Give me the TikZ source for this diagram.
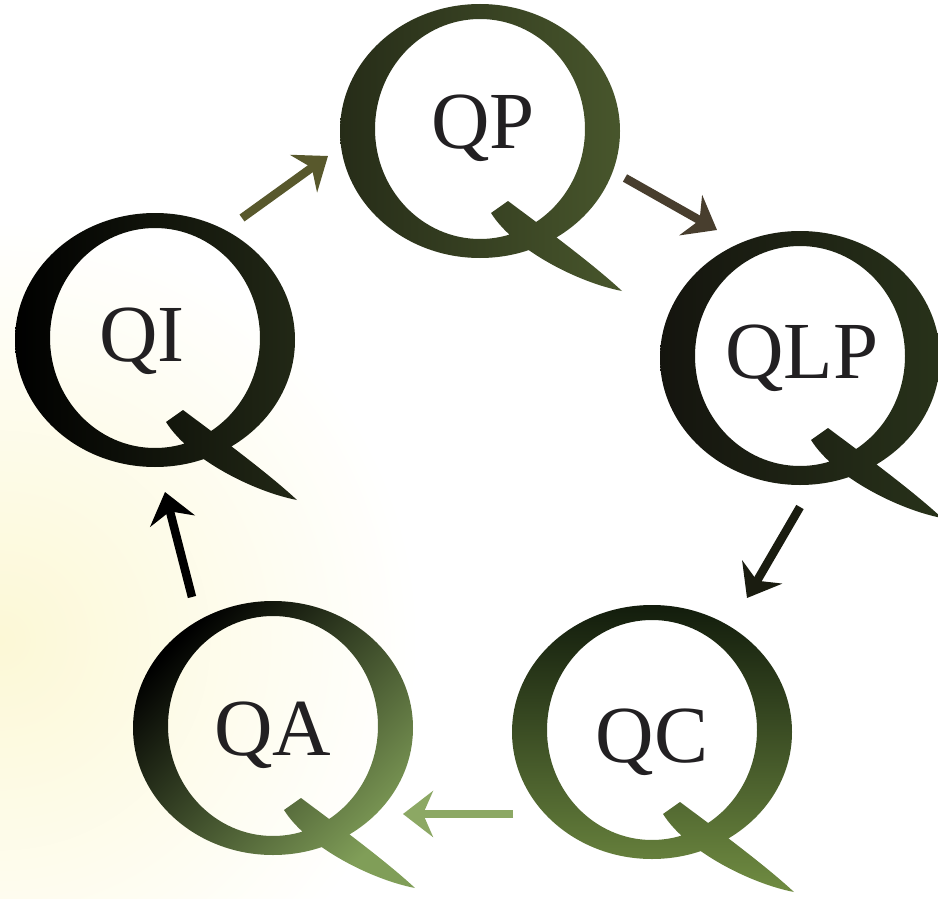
\documentclass[tikz,border=0pt]{standalone}
\usepackage{fontspec}
\setmainfont{Liberation Serif}
\usetikzlibrary{arrows.meta}
\definecolor{bgyel}{RGB}{252,248,214}
\definecolor{qpL}{RGB}{38,44,24}
\definecolor{qpR}{RGB}{72,86,44}
\definecolor{qiR}{RGB}{34,40,22}
\definecolor{qlpL}{RGB}{20,20,14}
\definecolor{qlpR}{RGB}{40,50,26}
\definecolor{qcT}{RGB}{18,28,12}
\definecolor{qcB}{RGB}{112,140,66}
\definecolor{qaB}{RGB}{128,158,88}
\definecolor{arOlive}{RGB}{88,88,44}
\definecolor{arPurp}{RGB}{72,62,46}
\definecolor{arDark}{RGB}{26,28,16}
\definecolor{arLight}{RGB}{140,168,100}
\definecolor{lbl}{RGB}{34,32,34}
\newcommand\DrawBigQ[3]{%
  \begin{scope}[shift={(#1,#2)}]
    \shade[#3] (140,0) arc[start angle=0,end angle=360,x radius=140pt,y radius=127pt] -- cycle
      (105,-2) arc[start angle=0,end angle=-360,x radius=105pt,y radius=110pt] -- cycle
      (11,82) -- (28,70) .. controls (75,105) and (115,135) .. (142,160)
      .. controls (100,152) and (35,120) .. cycle;
  \end{scope}}
\tikzset{
  lab/.style={anchor=base, inner sep=0pt, text=lbl, font=\fontsize{81}{81}\selectfont},
  flow/.style={line width=8.5pt, -{Stealth[length=30pt,width=46pt,inset=10pt]}}
}
\begin{document}
\begin{tikzpicture}[x=1pt,y=1pt,yscale=-1]
\useasboundingbox (0,0) rectangle (938,899);
\fill[white] (0,0) rectangle (938,899);
\begin{scope}
  \clip (0,0) rectangle (938,899);
  \shade[inner color=bgyel, outer color=white] (0,640) circle[radius=420pt];
\end{scope}
% big Q letters
\DrawBigQ{480}{131}{left color=qpL, right color=qpR}
\DrawBigQ{155}{340}{left color=black, right color=qiR}
\DrawBigQ{800}{358}{left color=qlpL, right color=qlpR}
\DrawBigQ{652}{732}{top color=qcT, bottom color=qcB}
\DrawBigQ{273}{728}{top color=black, bottom color=qaB, shading angle=45}
% labels
\node[lab] (QP)  at (483,148) {QP};
\node[lab] (QI)  at (142,361) {QI};
\node[lab] (QLP) at (802,378) {QLP};
\node[lab] (QC)  at (652,762) {QC};
\node[lab] (QA)  at (273,755) {QA};
% arrow ends
\coordinate (a1s) at (242,218); \coordinate (a1e) at (328,156);
\coordinate (a2s) at (625,178); \coordinate (a2e) at (717,230);
\coordinate (a3s) at (800,507); \coordinate (a3e) at (747,598);
\coordinate (a4s) at (513,814); \coordinate (a4e) at (403,814);
\coordinate (a5s) at (192,597); \coordinate (a5e) at (165,492);
\draw[flow, draw=arOlive, fill=arOlive] (a1s) -- (a1e);
\draw[flow, draw=arPurp, fill=arPurp] (a2s) -- (a2e);
\draw[flow, draw=arDark, fill=arDark] (a3s) -- (a3e);
\draw[flow, draw=arLight, fill=arLight] (a4s) -- (a4e);
\draw[flow, draw=black, fill=black] (a5s) -- (a5e);
\end{tikzpicture}
\end{document}
